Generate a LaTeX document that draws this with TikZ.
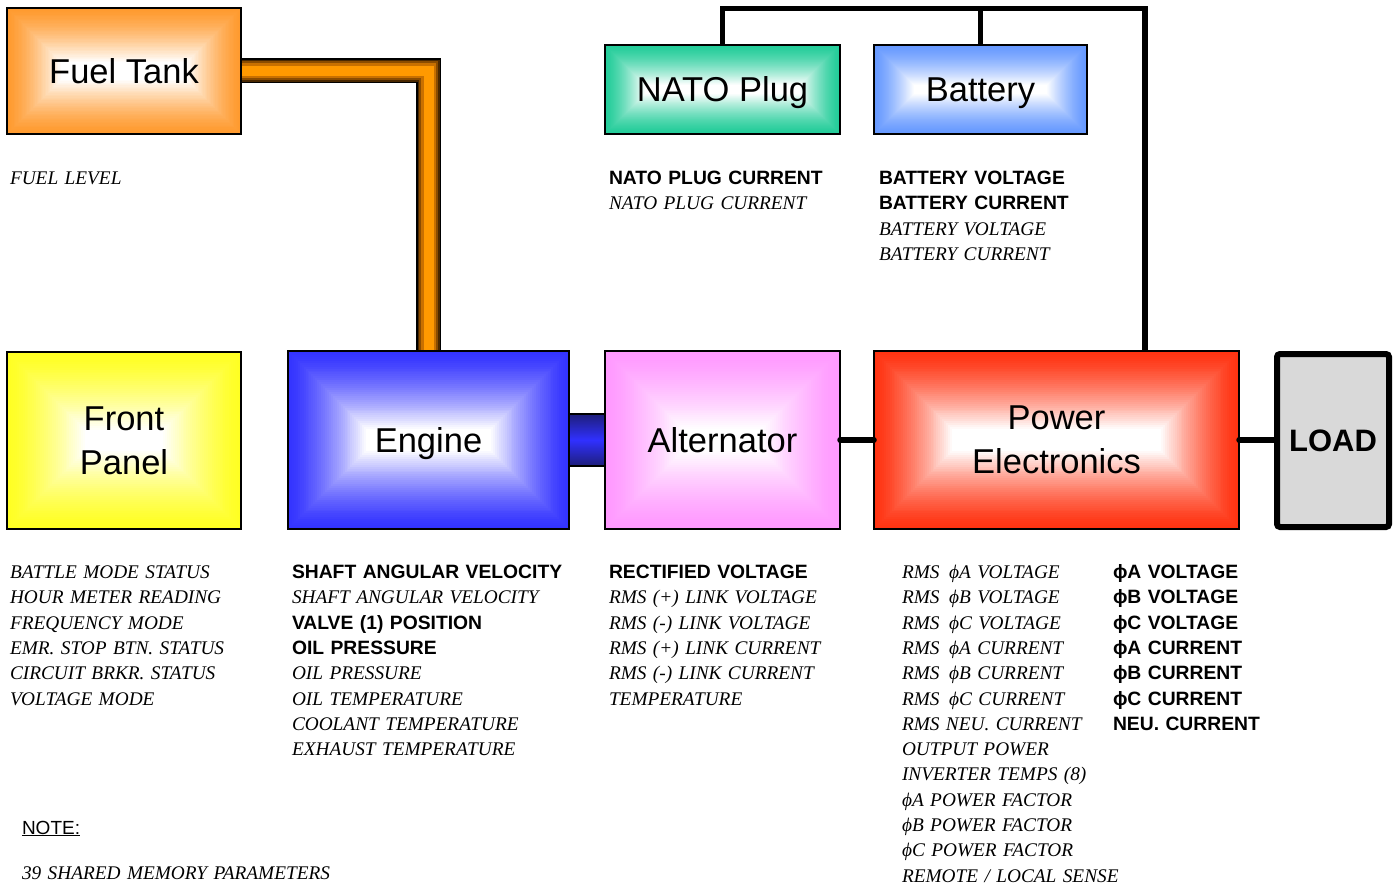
\documentclass[tikz,border=0pt]{standalone}
\usepackage{fontspec}
\setmainfont{Liberation Serif}
\newfontfamily\arialf{Liberation Sans}
\usetikzlibrary{calc}
\definecolor{cOrange}{HTML}{FF9A2E}
\definecolor{cGreen}{HTML}{22CC99}
\definecolor{cBat}{HTML}{6699FF}
\definecolor{cYellow}{HTML}{FFFF22}
\definecolor{cEngine}{HTML}{3333FF}
\definecolor{cPink}{HTML}{FF99FF}
\definecolor{cRed}{HTML}{FF3311}
\definecolor{cLoad}{HTML}{D9D9D9}
\definecolor{pipeA}{HTML}{4A2800}
\definecolor{pipeB}{HTML}{8A4C00}
\definecolor{pipeC}{HTML}{C87000}
\definecolor{pipeD}{HTML}{FF9900}
\definecolor{shaftDark}{HTML}{1E1E7A}
\definecolor{shaftMid}{HTML}{3030FF}
\newcommand\hb[1]{{\arialf\bfseries #1}}
\newcommand\ti[1]{{\itshape #1}}
\tikzset{
  sbox/.style 2 args={draw=black, line width=1.3pt, inner sep=0pt, outer sep=0pt,
    align=center, font=\arialf\fontsize{34.5}{44}\selectfont, fill=#1,
    path picture={
      \foreach \i in {1,...,40}{
        \pgfmathsetmacro\d{#2*\i/40}
        \pgfmathtruncatemacro\p{100*(1-(\i/40)^1.4)}
        \fill[#1!\p!white]
          ($(path picture bounding box.south west)+(\d pt,\d pt)$) rectangle
          ($(path picture bounding box.north east)+(-\d pt,-\d pt)$);
      }
    }},
  loadbox/.style={draw=black, line width=6pt, rounded corners=3pt, fill=cLoad,
    inner sep=0pt, outer sep=0pt, font=\arialf\bfseries\fontsize{31}{36}\selectfont},
  list/.style={anchor=base west, inner sep=0pt, outer sep=0pt, text width=330pt,
    align=left, font=\fontsize{19.3}{25.3}\selectfont},
  wire/.style={line width=5.5pt, black, line cap=round},
  bus/.style={line width=5.5pt, black, line join=miter},
}
\begin{document}
\begin{tikzpicture}[x=1pt,y=-1pt]
\useasboundingbox[fill=white] (0,0) rectangle (1396,888);

% boxes
\node[sbox={cOrange}{54}, minimum width=234pt, minimum height=126pt] (fuel) at (124,71) {Fuel Tank};
\node[sbox={cGreen}{40}, minimum width=235pt, minimum height=89pt, text depth=0pt] (nato) at (722.5,89.5) {NATO Plug};
\node[sbox={cBat}{40}, minimum width=213pt, minimum height=89pt, text depth=0pt] (bat) at (980.5,89.5) {Battery};
\node[sbox={cYellow}{78}, minimum width=234pt, minimum height=177pt] (front) at (124,440.5) {Front\\Panel};
\node[sbox={cEngine}{78}, minimum width=281pt, minimum height=178pt, text depth=0pt] (engine) at (428.5,440) {Engine};
\node[sbox={cPink}{78}, minimum width=235pt, minimum height=178pt] (alt) at (722.5,440) {Alternator};
\node[sbox={cRed}{78}, minimum width=365pt, minimum height=178pt] (pe) at (1056.5,440) {Power\\Electronics};
\node[loadbox, minimum width=112pt, minimum height=173pt] (load) at (1333,440.5) {LOAD};

% fuel pipe
\foreach \w/\c in {25/black, 22/pipeA, 19/pipeB, 15/pipeC, 10/pipeD}
  \draw[line width=\w pt, \c, line join=miter] (fuel.east) -| (engine.north);
\draw[line width=1.3pt] (fuel.north east) -- (fuel.south east);
\draw[line width=1.3pt] (engine.north west) -- (engine.north east);

% shaft
\draw[line width=1.2pt, black, top color=shaftDark, bottom color=shaftDark, middle color=shaftMid]
  ($(engine.east)+(0,-26)$) rectangle ($(alt.west)+(0,26)$);

% wires
\draw[wire] (alt.east) -- (alt.east -| pe.west);
\draw[wire] (pe.east) -- (pe.east -| load.west);

% bus
\coordinate (busR) at (1145,8.5);
\draw[bus] (nato.north) |- (busR) -- (busR |- pe.north);
\draw[bus] (bat.north) -- (bat.north |- busR);

% texts
\node[list] (fuellist) at (10,184.5) {\ti{FUEL LEVEL}};
\node[list] (natolist) at (609,184.5) {\hb{NATO PLUG CURRENT}\\\ti{NATO PLUG CURRENT}};
\node[list] (batlist) at (879,184.5) {\hb{BATTERY VOLTAGE}\\\hb{BATTERY CURRENT}\\\ti{BATTERY VOLTAGE}\\\ti{BATTERY CURRENT}};

\node[list] (frontlist) at (10,578.5) {\ti{BATTLE MODE STATUS}\\\ti{HOUR METER READING}\\\ti{FREQUENCY MODE}\\\ti{EMR. STOP BTN. STATUS}\\\ti{CIRCUIT BRKR. STATUS}\\\ti{VOLTAGE MODE}};
\node[list] (englist) at (292,578.5) {\hb{SHAFT ANGULAR VELOCITY}\\\ti{SHAFT ANGULAR VELOCITY}\\\hb{VALVE (1) POSITION}\\\hb{OIL PRESSURE}\\\ti{OIL PRESSURE}\\\ti{OIL TEMPERATURE}\\\ti{COOLANT TEMPERATURE}\\\ti{EXHAUST TEMPERATURE}};
\node[list] (altlist) at (609,578.5) {\hb{RECTIFIED VOLTAGE}\\\ti{RMS (+) LINK VOLTAGE}\\\ti{RMS (-) LINK VOLTAGE}\\\ti{RMS (+) LINK CURRENT}\\\ti{RMS (-) LINK CURRENT}\\\ti{TEMPERATURE}};
\node[list] (pelist) at (902,578.5) {\ti{RMS\enspace ϕA VOLTAGE}\\\ti{RMS\enspace ϕB VOLTAGE}\\\ti{RMS\enspace ϕC VOLTAGE}\\\ti{RMS\enspace ϕA CURRENT}\\\ti{RMS\enspace ϕB CURRENT}\\\ti{RMS\enspace ϕC CURRENT}\\\ti{RMS NEU. CURRENT}\\\ti{OUTPUT POWER}\\\ti{INVERTER TEMPS (8)}\\\ti{ϕA POWER FACTOR}\\\ti{ϕB POWER FACTOR}\\\ti{ϕC POWER FACTOR}\\\ti{REMOTE / LOCAL SENSE}};
\node[list] (pebold) at (1113,578.5) {\hb{ϕA VOLTAGE}\\\hb{ϕB VOLTAGE}\\\hb{ϕC VOLTAGE}\\\hb{ϕA CURRENT}\\\hb{ϕB CURRENT}\\\hb{ϕC CURRENT}\\\hb{NEU. CURRENT}};

\node[list, font=\arialf\fontsize{19}{25.3}\selectfont] (note) at (22,834) {\underline{NOTE:}};
\node[list] (shared) at (22,879.5) {\ti{39 SHARED MEMORY PARAMETERS}};
\end{tikzpicture}
\end{document}
